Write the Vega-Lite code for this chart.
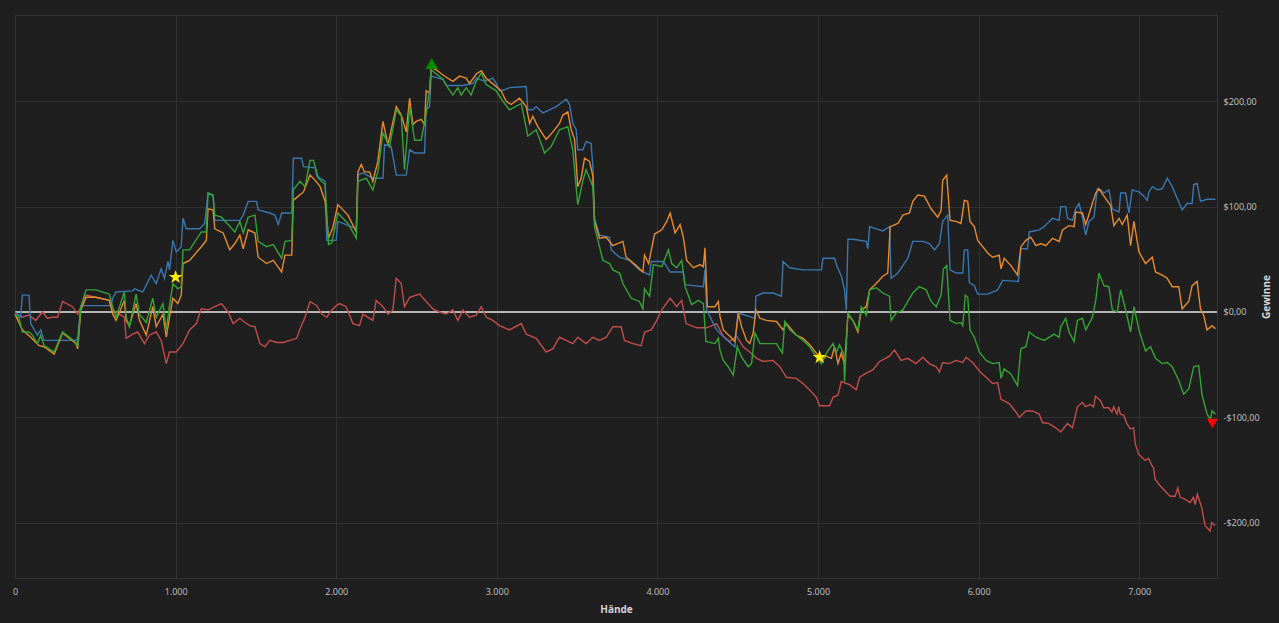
{
  "$schema": "https://vega.github.io/schema/vega-lite/v6.json",
  "description": "Gewinne über Hände, vier Kurven mit Markierungen",
  "width": 1202,
  "height": 563,
  "autosize": {"type": "none"},
  "padding": {"left": 15, "top": 15, "right": 62, "bottom": 45},
  "background": "#1f1f1f",
  "config": {
    "font": "Open Sans",
    "view": {"stroke": "#333333", "strokeWidth": 1},
    "axis": {
      "gridColor": "#313131",
      "gridWidth": 1,
      "domain": false,
      "ticks": false,
      "labelColor": "#c4c4c4",
      "labelFontSize": 9,
      "titleColor": "#d6d6d6",
      "titleFontSize": 10,
      "titleFontWeight": "bold"
    }
  },
  "encoding": {
    "x": {
      "field": "h",
      "type": "quantitative",
      "scale": {"domain": [0, 7484], "nice": false},
      "axis": {
        "title": "Hände",
        "values": [0, 1000, 2000, 3000, 4000, 5000, 6000, 7000],
        "labelExpr": "replace(format(datum.value, ','), ',', '.')",
        "labelFlush": false,
        "labelPadding": 9,
        "titlePadding": 8
      }
    },
    "y": {
      "field": "v",
      "type": "quantitative",
      "scale": {"domain": [-252.6, 282], "nice": false, "zero": false},
      "axis": {
        "orient": "right",
        "title": "Gewinne",
        "titleAngle": 270,
        "values": [-200, -100, 0, 100, 200],
        "labelExpr": "(datum.value < 0 ? '-' : '') + '$' + replace(format(abs(datum.value), '.2f'), '.', ',')",
        "labelPadding": 6,
        "titlePadding": 12
      }
    }
  },
  "datasets": {
    "zero": [{"h": 0, "v": 0}, {"h": 7484, "v": 0}],
    "red": [
      {"h":0,"v":0},{"h":25,"v":-3},{"h":46,"v":-5},{"h":87,"v":-3},{"h":129,"v":-8},{"h":171,"v":0},{"h":202,"v":-6},{"h":233,"v":-5},{"h":265,"v":-5},{"h":296,"v":10},{"h":358,"v":5},{"h":390,"v":-2},{"h":410,"v":5},{"h":442,"v":16},{"h":504,"v":14},{"h":587,"v":11},{"h":608,"v":2},{"h":650,"v":-2},{"h":681,"v":-5},{"h":692,"v":-25},{"h":733,"v":-21},{"h":764,"v":-19},{"h":806,"v":-30},{"h":837,"v":-22},{"h":879,"v":-19},{"h":910,"v":-27},{"h":942,"v":-49},{"h":962,"v":-38},{"h":1004,"v":-38},{"h":1046,"v":-30},{"h":1087,"v":-17},{"h":1129,"v":-11},{"h":1160,"v":3},{"h":1202,"v":2},{"h":1244,"v":5},{"h":1285,"v":8},{"h":1327,"v":0},{"h":1358,"v":-11},{"h":1400,"v":-6},{"h":1431,"v":-10},{"h":1462,"v":-13},{"h":1494,"v":-14},{"h":1525,"v":-30},{"h":1556,"v":-33},{"h":1587,"v":-27},{"h":1629,"v":-29},{"h":1671,"v":-29},{"h":1712,"v":-27},{"h":1754,"v":-25},{"h":1775,"v":-16},{"h":1806,"v":-5},{"h":1837,"v":10},{"h":1879,"v":6},{"h":1910,"v":-2},{"h":1941,"v":-5},{"h":1973,"v":2},{"h":2000,"v":6},{"h":2021,"v":8},{"h":2062,"v":5},{"h":2104,"v":-11},{"h":2145,"v":-13},{"h":2166,"v":-2},{"h":2228,"v":-8},{"h":2249,"v":11},{"h":2291,"v":5},{"h":2322,"v":-2},{"h":2353,"v":2},{"h":2374,"v":32},{"h":2405,"v":27},{"h":2425,"v":5},{"h":2457,"v":14},{"h":2519,"v":17},{"h":2560,"v":10},{"h":2602,"v":3},{"h":2643,"v":0},{"h":2685,"v":-2},{"h":2726,"v":2},{"h":2757,"v":-8},{"h":2789,"v":2},{"h":2830,"v":-5},{"h":2872,"v":-3},{"h":2903,"v":5},{"h":2934,"v":-5},{"h":2975,"v":-8},{"h":3017,"v":-13},{"h":3079,"v":-17},{"h":3152,"v":-11},{"h":3183,"v":-21},{"h":3245,"v":-25},{"h":3307,"v":-38},{"h":3349,"v":-35},{"h":3390,"v":-24},{"h":3432,"v":-27},{"h":3473,"v":-30},{"h":3504,"v":-24},{"h":3556,"v":-30},{"h":3598,"v":-24},{"h":3639,"v":-27},{"h":3681,"v":-24},{"h":3722,"v":-14},{"h":3774,"v":-14},{"h":3795,"v":-27},{"h":3847,"v":-30},{"h":3899,"v":-32},{"h":3920,"v":-19},{"h":3961,"v":-17},{"h":3996,"v":-8},{"h":4027,"v":2},{"h":4079,"v":13},{"h":4120,"v":5},{"h":4151,"v":11},{"h":4178,"v":-11},{"h":4244,"v":-15},{"h":4306,"v":-15},{"h":4368,"v":-11},{"h":4410,"v":-23},{"h":4451,"v":-28},{"h":4493,"v":-23},{"h":4534,"v":-33},{"h":4575,"v":-38},{"h":4617,"v":-44},{"h":4658,"v":-47},{"h":4720,"v":-46},{"h":4762,"v":-52},{"h":4803,"v":-62},{"h":4865,"v":-63},{"h":4907,"v":-68},{"h":4948,"v":-74},{"h":4989,"v":-81},{"h":5010,"v":-89},{"h":5072,"v":-89},{"h":5093,"v":-81},{"h":5124,"v":-79},{"h":5145,"v":-66},{"h":5196,"v":-69},{"h":5238,"v":-74},{"h":5259,"v":-62},{"h":5300,"v":-58},{"h":5341,"v":-55},{"h":5383,"v":-47},{"h":5445,"v":-42},{"h":5476,"v":-36},{"h":5517,"v":-46},{"h":5559,"v":-44},{"h":5610,"v":-49},{"h":5652,"v":-43},{"h":5693,"v":-49},{"h":5736,"v":-52},{"h":5756,"v":-57},{"h":5776,"v":-48},{"h":5817,"v":-49},{"h":5859,"v":-46},{"h":5901,"v":-48},{"h":5922,"v":-43},{"h":5963,"v":-48},{"h":6004,"v":-56},{"h":6046,"v":-62},{"h":6087,"v":-68},{"h":6118,"v":-67},{"h":6139,"v":-83},{"h":6190,"v":-87},{"h":6232,"v":-95},{"h":6253,"v":-100},{"h":6294,"v":-94},{"h":6335,"v":-94},{"h":6377,"v":-97},{"h":6397,"v":-105},{"h":6439,"v":-106},{"h":6480,"v":-110},{"h":6511,"v":-114},{"h":6553,"v":-106},{"h":6584,"v":-110},{"h":6615,"v":-90},{"h":6646,"v":-86},{"h":6665,"v":-90},{"h":6696,"v":-88},{"h":6716,"v":-90},{"h":6727,"v":-80},{"h":6758,"v":-84},{"h":6779,"v":-91},{"h":6810,"v":-91},{"h":6830,"v":-95},{"h":6841,"v":-90},{"h":6861,"v":-97},{"h":6872,"v":-90},{"h":6882,"v":-97},{"h":6903,"v":-98},{"h":6923,"v":-106},{"h":6944,"v":-111},{"h":6965,"v":-110},{"h":6975,"v":-125},{"h":6996,"v":-135},{"h":7017,"v":-138},{"h":7037,"v":-141},{"h":7058,"v":-139},{"h":7079,"v":-146},{"h":7089,"v":-148},{"h":7099,"v":-159},{"h":7130,"v":-165},{"h":7161,"v":-170},{"h":7192,"v":-175},{"h":7224,"v":-175},{"h":7240,"v":-167},{"h":7255,"v":-176},{"h":7286,"v":-178},{"h":7317,"v":-181},{"h":7337,"v":-176},{"h":7348,"v":-183},{"h":7362,"v":-173},{"h":7389,"v":-186},{"h":7410,"v":-203},{"h":7441,"v":-208},{"h":7451,"v":-200},{"h":7472,"v":-203}
    ],
    "blue": [
      {"h":0,"v":0},{"h":35,"v":-5},{"h":46,"v":16},{"h":87,"v":16},{"h":98,"v":-11},{"h":140,"v":-22},{"h":160,"v":-17},{"h":181,"v":-27},{"h":379,"v":-27},{"h":390,"v":-25},{"h":410,"v":6},{"h":598,"v":6},{"h":608,"v":13},{"h":629,"v":19},{"h":733,"v":20},{"h":744,"v":22},{"h":796,"v":19},{"h":848,"v":35},{"h":879,"v":27},{"h":910,"v":41},{"h":931,"v":32},{"h":952,"v":48},{"h":962,"v":40},{"h":983,"v":68},{"h":1004,"v":57},{"h":1035,"v":62},{"h":1046,"v":89},{"h":1066,"v":79},{"h":1150,"v":79},{"h":1181,"v":84},{"h":1202,"v":113},{"h":1233,"v":110},{"h":1244,"v":87},{"h":1400,"v":87},{"h":1421,"v":92},{"h":1452,"v":105},{"h":1504,"v":105},{"h":1514,"v":97},{"h":1587,"v":94},{"h":1618,"v":92},{"h":1639,"v":83},{"h":1660,"v":94},{"h":1723,"v":94},{"h":1733,"v":146},{"h":1785,"v":146},{"h":1796,"v":138},{"h":1869,"v":137},{"h":1879,"v":129},{"h":1931,"v":124},{"h":1941,"v":68},{"h":2000,"v":68},{"h":2010,"v":86},{"h":2062,"v":83},{"h":2125,"v":79},{"h":2135,"v":130},{"h":2166,"v":132},{"h":2228,"v":127},{"h":2291,"v":127},{"h":2301,"v":159},{"h":2342,"v":157},{"h":2374,"v":130},{"h":2436,"v":130},{"h":2457,"v":154},{"h":2488,"v":151},{"h":2550,"v":151},{"h":2560,"v":192},{"h":2581,"v":195},{"h":2591,"v":224},{"h":2664,"v":221},{"h":2685,"v":215},{"h":2789,"v":215},{"h":2851,"v":217},{"h":2872,"v":222},{"h":2923,"v":219},{"h":2975,"v":222},{"h":2996,"v":217},{"h":3017,"v":210},{"h":3048,"v":211},{"h":3079,"v":213},{"h":3183,"v":214},{"h":3193,"v":192},{"h":3224,"v":192},{"h":3245,"v":195},{"h":3287,"v":189},{"h":3328,"v":192},{"h":3370,"v":195},{"h":3432,"v":202},{"h":3453,"v":197},{"h":3473,"v":179},{"h":3494,"v":173},{"h":3504,"v":154},{"h":3536,"v":154},{"h":3556,"v":162},{"h":3587,"v":160},{"h":3598,"v":138},{"h":3608,"v":89},{"h":3639,"v":73},{"h":3702,"v":71},{"h":3712,"v":59},{"h":3764,"v":52},{"h":3826,"v":49},{"h":3888,"v":40},{"h":3951,"v":35},{"h":3961,"v":48},{"h":4037,"v":48},{"h":4079,"v":38},{"h":4161,"v":38},{"h":4172,"v":26},{"h":4286,"v":24},{"h":4296,"v":40},{"h":4306,"v":2},{"h":4368,"v":-17},{"h":4420,"v":-25},{"h":4482,"v":-33},{"h":4503,"v":-1},{"h":4565,"v":-4},{"h":4607,"v":-6},{"h":4613,"v":15},{"h":4658,"v":18},{"h":4720,"v":18},{"h":4772,"v":15},{"h":4782,"v":48},{"h":4824,"v":42},{"h":4907,"v":40},{"h":5021,"v":40},{"h":5031,"v":51},{"h":5103,"v":51},{"h":5114,"v":45},{"h":5145,"v":34},{"h":5165,"v":21},{"h":5176,"v":2},{"h":5186,"v":69},{"h":5217,"v":69},{"h":5300,"v":67},{"h":5310,"v":60},{"h":5321,"v":81},{"h":5403,"v":77},{"h":5445,"v":81},{"h":5455,"v":32},{"h":5497,"v":37},{"h":5559,"v":51},{"h":5590,"v":67},{"h":5652,"v":67},{"h":5693,"v":65},{"h":5725,"v":59},{"h":5756,"v":65},{"h":5776,"v":86},{"h":5807,"v":92},{"h":5822,"v":40},{"h":5859,"v":37},{"h":5901,"v":37},{"h":5911,"v":59},{"h":5932,"v":59},{"h":5942,"v":28},{"h":5973,"v":25},{"h":5994,"v":17},{"h":6056,"v":17},{"h":6118,"v":21},{"h":6149,"v":30},{"h":6248,"v":29},{"h":6263,"v":60},{"h":6304,"v":60},{"h":6315,"v":76},{"h":6377,"v":78},{"h":6408,"v":81},{"h":6460,"v":89},{"h":6501,"v":87},{"h":6511,"v":100},{"h":6542,"v":100},{"h":6553,"v":89},{"h":6584,"v":87},{"h":6604,"v":98},{"h":6625,"v":103},{"h":6646,"v":90},{"h":6656,"v":81},{"h":6667,"v":73},{"h":6687,"v":86},{"h":6718,"v":90},{"h":6739,"v":117},{"h":6760,"v":116},{"h":6780,"v":113},{"h":6811,"v":116},{"h":6832,"v":98},{"h":6874,"v":95},{"h":6884,"v":113},{"h":6915,"v":113},{"h":6936,"v":94},{"h":6956,"v":116},{"h":6998,"v":114},{"h":7029,"v":110},{"h":7049,"v":106},{"h":7060,"v":114},{"h":7081,"v":119},{"h":7112,"v":116},{"h":7143,"v":117},{"h":7174,"v":127},{"h":7205,"v":119},{"h":7236,"v":108},{"h":7267,"v":97},{"h":7298,"v":103},{"h":7329,"v":103},{"h":7339,"v":121},{"h":7360,"v":122},{"h":7381,"v":105},{"h":7422,"v":107},{"h":7474,"v":107}
    ],
    "orange": [
      {"h":0,"v":-2},{"h":46,"v":-17},{"h":98,"v":-24},{"h":150,"v":-32},{"h":181,"v":-33},{"h":244,"v":-40},{"h":296,"v":-20},{"h":379,"v":-30},{"h":390,"v":-35},{"h":410,"v":2},{"h":442,"v":14},{"h":504,"v":14},{"h":587,"v":11},{"h":608,"v":-2},{"h":629,"v":-8},{"h":681,"v":11},{"h":692,"v":-8},{"h":712,"v":-13},{"h":754,"v":8},{"h":775,"v":-8},{"h":817,"v":-22},{"h":858,"v":5},{"h":879,"v":-14},{"h":921,"v":-2},{"h":942,"v":-24},{"h":962,"v":-5},{"h":983,"v":13},{"h":1014,"v":8},{"h":1035,"v":16},{"h":1046,"v":46},{"h":1087,"v":49},{"h":1160,"v":62},{"h":1191,"v":68},{"h":1202,"v":98},{"h":1233,"v":97},{"h":1244,"v":79},{"h":1296,"v":75},{"h":1337,"v":59},{"h":1369,"v":65},{"h":1400,"v":73},{"h":1421,"v":60},{"h":1452,"v":78},{"h":1494,"v":75},{"h":1514,"v":52},{"h":1566,"v":46},{"h":1608,"v":49},{"h":1660,"v":38},{"h":1681,"v":54},{"h":1723,"v":54},{"h":1733,"v":106},{"h":1764,"v":110},{"h":1796,"v":114},{"h":1837,"v":130},{"h":1869,"v":125},{"h":1900,"v":119},{"h":1931,"v":105},{"h":1952,"v":70},{"h":1979,"v":80},{"h":2010,"v":102},{"h":2073,"v":92},{"h":2125,"v":76},{"h":2135,"v":133},{"h":2156,"v":140},{"h":2176,"v":133},{"h":2208,"v":133},{"h":2228,"v":124},{"h":2259,"v":143},{"h":2291,"v":181},{"h":2322,"v":159},{"h":2374,"v":195},{"h":2405,"v":187},{"h":2436,"v":171},{"h":2457,"v":203},{"h":2477,"v":178},{"h":2498,"v":181},{"h":2529,"v":183},{"h":2550,"v":178},{"h":2560,"v":210},{"h":2581,"v":208},{"h":2591,"v":232},{"h":2623,"v":230},{"h":2664,"v":225},{"h":2726,"v":219},{"h":2768,"v":224},{"h":2809,"v":222},{"h":2830,"v":217},{"h":2872,"v":226},{"h":2903,"v":229},{"h":2934,"v":222},{"h":2996,"v":214},{"h":3027,"v":210},{"h":3058,"v":200},{"h":3089,"v":197},{"h":3141,"v":203},{"h":3183,"v":195},{"h":3204,"v":179},{"h":3224,"v":186},{"h":3255,"v":176},{"h":3307,"v":164},{"h":3349,"v":171},{"h":3390,"v":179},{"h":3411,"v":187},{"h":3442,"v":190},{"h":3463,"v":173},{"h":3484,"v":164},{"h":3504,"v":119},{"h":3525,"v":127},{"h":3546,"v":146},{"h":3577,"v":143},{"h":3598,"v":129},{"h":3608,"v":87},{"h":3639,"v":70},{"h":3681,"v":71},{"h":3722,"v":63},{"h":3785,"v":67},{"h":3805,"v":52},{"h":3868,"v":44},{"h":3909,"v":38},{"h":3920,"v":54},{"h":3945,"v":46},{"h":3982,"v":74},{"h":4027,"v":78},{"h":4058,"v":86},{"h":4079,"v":94},{"h":4110,"v":75},{"h":4141,"v":83},{"h":4161,"v":71},{"h":4182,"v":49},{"h":4224,"v":42},{"h":4265,"v":45},{"h":4286,"v":43},{"h":4296,"v":61},{"h":4311,"v":5},{"h":4358,"v":5},{"h":4379,"v":10},{"h":4389,"v":-4},{"h":4410,"v":-17},{"h":4451,"v":-23},{"h":4482,"v":-28},{"h":4503,"v":-1},{"h":4524,"v":-14},{"h":4555,"v":-27},{"h":4575,"v":-30},{"h":4596,"v":-20},{"h":4613,"v":2},{"h":4638,"v":-6},{"h":4679,"v":-8},{"h":4741,"v":-9},{"h":4782,"v":-17},{"h":4803,"v":-11},{"h":4865,"v":-22},{"h":4907,"v":-25},{"h":4948,"v":-31},{"h":4989,"v":-39},{"h":5021,"v":-46},{"h":5052,"v":-42},{"h":5083,"v":-44},{"h":5103,"v":-33},{"h":5124,"v":-49},{"h":5145,"v":-39},{"h":5165,"v":-50},{"h":5186,"v":-3},{"h":5217,"v":-8},{"h":5248,"v":-19},{"h":5269,"v":2},{"h":5300,"v":5},{"h":5321,"v":21},{"h":5362,"v":27},{"h":5403,"v":34},{"h":5434,"v":37},{"h":5449,"v":81},{"h":5497,"v":84},{"h":5528,"v":92},{"h":5569,"v":94},{"h":5590,"v":105},{"h":5621,"v":111},{"h":5662,"v":110},{"h":5704,"v":98},{"h":5745,"v":90},{"h":5766,"v":96},{"h":5776,"v":125},{"h":5801,"v":130},{"h":5822,"v":87},{"h":5859,"v":86},{"h":5890,"v":84},{"h":5911,"v":106},{"h":5932,"v":105},{"h":5946,"v":86},{"h":5973,"v":81},{"h":5994,"v":68},{"h":6025,"v":62},{"h":6056,"v":56},{"h":6087,"v":52},{"h":6128,"v":54},{"h":6139,"v":41},{"h":6159,"v":51},{"h":6201,"v":44},{"h":6242,"v":35},{"h":6263,"v":62},{"h":6294,"v":68},{"h":6325,"v":71},{"h":6356,"v":63},{"h":6387,"v":65},{"h":6418,"v":63},{"h":6460,"v":70},{"h":6501,"v":67},{"h":6522,"v":78},{"h":6563,"v":82},{"h":6594,"v":81},{"h":6604,"v":95},{"h":6646,"v":94},{"h":6667,"v":83},{"h":6708,"v":103},{"h":6729,"v":113},{"h":6749,"v":117},{"h":6780,"v":110},{"h":6822,"v":101},{"h":6842,"v":82},{"h":6874,"v":89},{"h":6894,"v":83},{"h":6925,"v":92},{"h":6946,"v":63},{"h":6967,"v":86},{"h":6998,"v":57},{"h":7039,"v":46},{"h":7081,"v":52},{"h":7101,"v":38},{"h":7143,"v":35},{"h":7174,"v":32},{"h":7205,"v":24},{"h":7246,"v":24},{"h":7267,"v":3},{"h":7308,"v":10},{"h":7329,"v":25},{"h":7360,"v":29},{"h":7381,"v":3},{"h":7401,"v":-3},{"h":7422,"v":-17},{"h":7453,"v":-13},{"h":7474,"v":-16}
    ],
    "green": [
      {"h":0,"v":-2},{"h":25,"v":-6},{"h":46,"v":-19},{"h":87,"v":-19},{"h":108,"v":-22},{"h":140,"v":-30},{"h":160,"v":-22},{"h":181,"v":-32},{"h":244,"v":-38},{"h":296,"v":-19},{"h":379,"v":-29},{"h":390,"v":-33},{"h":410,"v":5},{"h":442,"v":21},{"h":504,"v":21},{"h":587,"v":17},{"h":608,"v":5},{"h":629,"v":-5},{"h":681,"v":19},{"h":692,"v":-5},{"h":712,"v":-14},{"h":754,"v":17},{"h":775,"v":-2},{"h":817,"v":-10},{"h":858,"v":13},{"h":879,"v":-5},{"h":921,"v":8},{"h":942,"v":-17},{"h":962,"v":6},{"h":983,"v":27},{"h":1014,"v":22},{"h":1035,"v":24},{"h":1046,"v":59},{"h":1087,"v":59},{"h":1160,"v":76},{"h":1191,"v":76},{"h":1202,"v":113},{"h":1233,"v":111},{"h":1244,"v":92},{"h":1285,"v":90},{"h":1327,"v":83},{"h":1369,"v":76},{"h":1400,"v":86},{"h":1421,"v":75},{"h":1452,"v":90},{"h":1494,"v":92},{"h":1514,"v":67},{"h":1566,"v":62},{"h":1608,"v":64},{"h":1660,"v":51},{"h":1681,"v":67},{"h":1723,"v":68},{"h":1733,"v":116},{"h":1775,"v":124},{"h":1806,"v":119},{"h":1837,"v":144},{"h":1858,"v":144},{"h":1889,"v":127},{"h":1931,"v":121},{"h":1952,"v":64},{"h":1973,"v":66},{"h":1993,"v":81},{"h":2010,"v":94},{"h":2073,"v":84},{"h":2125,"v":70},{"h":2135,"v":124},{"h":2187,"v":127},{"h":2228,"v":116},{"h":2259,"v":133},{"h":2291,"v":170},{"h":2332,"v":157},{"h":2374,"v":192},{"h":2405,"v":186},{"h":2425,"v":135},{"h":2457,"v":195},{"h":2488,"v":163},{"h":2529,"v":163},{"h":2560,"v":189},{"h":2581,"v":210},{"h":2591,"v":230},{"h":2664,"v":221},{"h":2695,"v":213},{"h":2726,"v":206},{"h":2757,"v":213},{"h":2778,"v":206},{"h":2809,"v":213},{"h":2840,"v":206},{"h":2872,"v":219},{"h":2903,"v":227},{"h":2934,"v":216},{"h":2996,"v":210},{"h":3038,"v":200},{"h":3079,"v":192},{"h":3152,"v":198},{"h":3193,"v":167},{"h":3245,"v":173},{"h":3297,"v":151},{"h":3338,"v":157},{"h":3390,"v":173},{"h":3442,"v":176},{"h":3473,"v":154},{"h":3504,"v":102},{"h":3536,"v":125},{"h":3556,"v":135},{"h":3598,"v":119},{"h":3608,"v":81},{"h":3639,"v":62},{"h":3660,"v":49},{"h":3702,"v":46},{"h":3722,"v":40},{"h":3764,"v":37},{"h":3785,"v":27},{"h":3837,"v":13},{"h":3888,"v":10},{"h":3909,"v":3},{"h":3920,"v":22},{"h":3951,"v":15},{"h":3975,"v":45},{"h":4027,"v":43},{"h":4068,"v":59},{"h":4089,"v":46},{"h":4120,"v":42},{"h":4151,"v":49},{"h":4172,"v":24},{"h":4213,"v":7},{"h":4255,"v":11},{"h":4286,"v":8},{"h":4302,"v":-28},{"h":4358,"v":-30},{"h":4379,"v":-25},{"h":4389,"v":-36},{"h":4410,"v":-46},{"h":4441,"v":-52},{"h":4472,"v":-60},{"h":4497,"v":-33},{"h":4524,"v":-43},{"h":4565,"v":-52},{"h":4586,"v":-49},{"h":4607,"v":-20},{"h":4638,"v":-30},{"h":4741,"v":-30},{"h":4778,"v":-39},{"h":4793,"v":-9},{"h":4824,"v":-17},{"h":4865,"v":-22},{"h":4907,"v":-27},{"h":4948,"v":-33},{"h":4989,"v":-43},{"h":5021,"v":-49},{"h":5052,"v":-39},{"h":5093,"v":-30},{"h":5114,"v":-38},{"h":5134,"v":-31},{"h":5160,"v":-40},{"h":5165,"v":-66},{"h":5186,"v":-1},{"h":5228,"v":-11},{"h":5248,"v":-17},{"h":5269,"v":5},{"h":5300,"v":-3},{"h":5321,"v":21},{"h":5362,"v":23},{"h":5403,"v":18},{"h":5445,"v":15},{"h":5455,"v":-8},{"h":5486,"v":-1},{"h":5528,"v":2},{"h":5559,"v":10},{"h":5590,"v":18},{"h":5631,"v":24},{"h":5673,"v":21},{"h":5704,"v":10},{"h":5736,"v":5},{"h":5766,"v":16},{"h":5781,"v":41},{"h":5801,"v":44},{"h":5822,"v":-8},{"h":5859,"v":-11},{"h":5890,"v":-10},{"h":5901,"v":-13},{"h":5917,"v":16},{"h":5932,"v":14},{"h":5946,"v":-17},{"h":5973,"v":-24},{"h":6004,"v":-38},{"h":6046,"v":-46},{"h":6087,"v":-49},{"h":6128,"v":-48},{"h":6139,"v":-63},{"h":6159,"v":-54},{"h":6201,"v":-59},{"h":6242,"v":-70},{"h":6263,"v":-35},{"h":6294,"v":-33},{"h":6315,"v":-19},{"h":6356,"v":-24},{"h":6408,"v":-27},{"h":6470,"v":-21},{"h":6501,"v":-24},{"h":6511,"v":-14},{"h":6542,"v":-6},{"h":6563,"v":-19},{"h":6594,"v":-28},{"h":6615,"v":-8},{"h":6646,"v":-6},{"h":6667,"v":-17},{"h":6708,"v":-5},{"h":6729,"v":11},{"h":6749,"v":37},{"h":6780,"v":25},{"h":6811,"v":24},{"h":6832,"v":2},{"h":6863,"v":0},{"h":6884,"v":21},{"h":6915,"v":2},{"h":6946,"v":-19},{"h":6967,"v":5},{"h":6998,"v":-17},{"h":7039,"v":-37},{"h":7070,"v":-33},{"h":7101,"v":-44},{"h":7143,"v":-49},{"h":7174,"v":-48},{"h":7205,"v":-52},{"h":7246,"v":-65},{"h":7277,"v":-78},{"h":7308,"v":-73},{"h":7339,"v":-52},{"h":7370,"v":-51},{"h":7391,"v":-79},{"h":7422,"v":-97},{"h":7443,"v":-102},{"h":7453,"v":-94},{"h":7474,"v":-97}
    ],
    "markers": [
      {"h": 1000, "v": 33, "kind": "star"},
      {"h": 5010, "v": -43, "kind": "star"},
      {"h": 2595, "v": 236, "kind": "max"},
      {"h": 7455, "v": -106, "kind": "min"}
    ]
  },
  "layer": [
    {
      "data": {"name": "zero"},
      "mark": {"type": "line", "color": "#e6e6e6", "strokeWidth": 1.5},
      "encoding": {}
    },
    {
      "data": {"name": "red"},
      "mark": {"type": "line", "color": "#c24c4c", "strokeWidth": 1.4},
      "encoding": {}
    },
    {
      "data": {"name": "blue"},
      "mark": {"type": "line", "color": "#3a76b0", "strokeWidth": 1.4},
      "encoding": {}
    },
    {
      "data": {"name": "orange"},
      "mark": {"type": "line", "color": "#e68a2e", "strokeWidth": 1.4},
      "encoding": {}
    },
    {
      "data": {"name": "green"},
      "mark": {"type": "line", "color": "#35a335", "strokeWidth": 1.4},
      "encoding": {}
    },
    {
      "data": {"name": "markers"},
      "mark": {"type": "point", "filled": true, "opacity": 1, "strokeWidth": 0},
      "encoding": {
        "shape": {
          "field": "kind",
          "type": "nominal",
          "scale": {
            "domain": ["star", "max", "min"],
            "range": [
              "M0,-1L0.2245,-0.309L0.9511,-0.309L0.3633,0.118L0.5878,0.809L0,0.382L-0.5878,0.809L-0.3633,0.118L-0.9511,-0.309L-0.2245,-0.309Z",
              "triangle-up",
              "triangle-down"
            ]
          },
          "legend": null
        },
        "size": {
          "field": "kind",
          "type": "nominal",
          "scale": {"domain": ["star", "max", "min"], "range": [210, 120, 120]},
          "legend": null
        },
        "color": {
          "field": "kind",
          "type": "nominal",
          "scale": {"domain": ["star", "max", "min"], "range": ["#ffee00", "#008a00", "#ff0000"]},
          "legend": null
        }
      }
    }
  ]
}
